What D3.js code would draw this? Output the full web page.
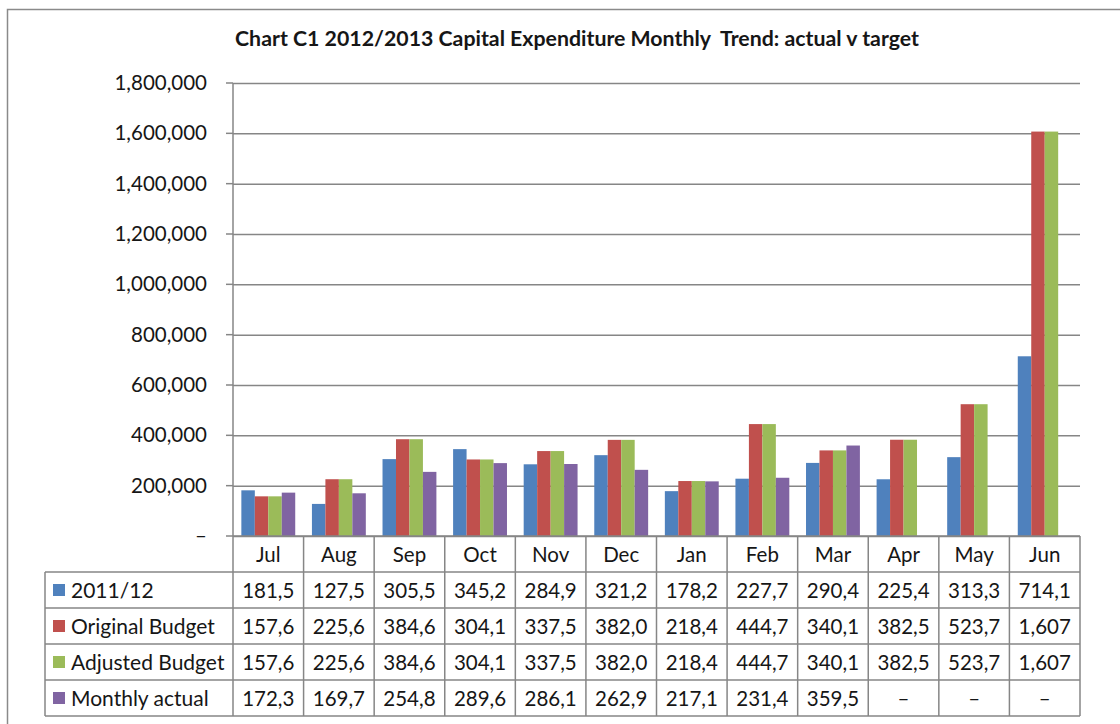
<!DOCTYPE html>
<html>
<head>
<meta charset="utf-8">
<script src="https://cdn.jsdelivr.net/npm/d3@7"></script>
<style>
    body { margin: 0; background: #fff; }
    svg { font-family: Lato, "Open Sans", sans-serif; }
</style>
</head>
<body>
<div id="chart"></div>
<script>
// months and series (values in $; the table shows the first 5 characters, as the original does)
let months = ["Jul", "Aug", "Sep", "Oct", "Nov", "Dec", "Jan", "Feb", "Mar", "Apr", "May", "Jun"];
let seriesNames = ["2011/12", "Original Budget", "Adjusted Budget", "Monthly actual"];
let seriesColors = ["#4F81BD", "#C0504D", "#9BBB59", "#8064A2"];

let prevYear = [181500, 127500, 305500, 345200, 284900, 321200, 178200, 227700, 290400, 225400, 313300, 714100];
let originalBudget = [157600, 225600, 384600, 304100, 337500, 382000, 218400, 444700, 340100, 382500, 523700, 1607000];
let adjustedBudget = [157600, 225600, 384600, 304100, 337500, 382000, 218400, 444700, 340100, 382500, 523700, 1607000];
let monthlyActual = [172300, 169700, 254800, 289600, 286100, 262900, 217100, 231400, 359500, null, null, null];

let yTicks = [0, 200000, 400000, 600000, 800000, 1000000, 1200000, 1400000, 1600000, 1800000];

let series = [prevYear, originalBudget, adjustedBudget, monthlyActual];

let width = 1120, height = 724;
let margin = {top: 83, right: 40, bottom: 188, left: 233};
let plotW = width - margin.left - margin.right;
let plotH = height - margin.top - margin.bottom;
let rowH = 36;
let gridColor = "#868686";
let textColor = "#161616";

let svg = d3.select("#chart").append("svg")
    .attr("width", width)
    .attr("height", height);

// chart area border
svg.append("rect")
    .attr("x", 7.5).attr("y", 9.5)
    .attr("width", width + 20).attr("height", height + 20)
    .attr("fill", "none")
    .attr("stroke", "#8a8a8a")
    .attr("stroke-width", 1.5);

svg.append("text")
    .attr("x", 577)
    .attr("y", 46)
    .attr("text-anchor", "middle")
    .style("font-size", "21.3px")
    .style("font-weight", "bold")
    .style("fill", textColor)
    .attr("xml:space", "preserve")
    .text("Chart C1 2012/2013 Capital Expenditure Monthly  Trend: actual v target");

let g = svg.append("g")
    .attr("transform", `translate(${margin.left}, ${margin.top})`);

// scales
let x0 = d3.scaleBand()
    .domain(months)
    .range([0, plotW]);

let x1 = d3.scaleBand()
    .domain(d3.range(series.length))
    .range([0, x0.bandwidth()])
    .paddingOuter(0.62);

let y = d3.scaleLinear()
    .domain([0, 1800000])
    .range([plotH, 0]);

// gridlines + y axis
let yAxis = d3.axisLeft(y)
    .tickValues(yTicks)
    .tickSize(-plotW)
    .tickPadding(26)
    .tickFormat(d => d === 0 ? "–" : d3.format(",")(d));

g.append("g")
    .attr("class", "y-axis")
    .call(yAxis)
    .call(ax => ax.select(".domain").remove())
    .call(ax => ax.selectAll("line")
        .attr("stroke", gridColor)
        .attr("stroke-width", 1.5))
    .call(ax => ax.selectAll("text")
        .style("font-size", "20.5px")
        .style("fill", textColor)
        .style("font-family", "Lato, sans-serif"));

// small outside ticks
g.append("g")
    .selectAll("line")
    .data(yTicks)
    .enter().append("line")
    .attr("x1", -7).attr("x2", 0)
    .attr("y1", d => y(d)).attr("y2", d => y(d))
    .attr("stroke", gridColor)
    .attr("stroke-width", 1.5);

// bars
let groups = g.selectAll(".month")
    .data(months)
    .enter().append("g")
    .attr("class", "month")
    .attr("transform", d => `translate(${x0(d)}, 0)`);

groups.selectAll("rect")
    .data((m, i) => series.map((s, k) => ({k: k, v: s[i]})).filter(d => d.v !== null))
    .enter().append("rect")
    .attr("x", d => x1(d.k))
    .attr("width", x1.bandwidth())
    .attr("y", d => y(d.v))
    .attr("height", d => plotH - y(d.v))
    .attr("fill", d => seriesColors[d.k]);

// y axis line
g.append("line")
    .attr("x1", 0).attr("x2", 0)
    .attr("y1", 0).attr("y2", plotH)
    .attr("stroke", gridColor)
    .attr("stroke-width", 1.5);

// data table
let table = g.append("g")
    .attr("transform", `translate(0, ${plotH})`);

let legendX = 45 - margin.left;
let fs = "20.5px";

// horizontal lines
table.selectAll(".hline")
    .data(d3.range(series.length + 2))
    .enter().append("line")
    .attr("x1", d => d === 0 ? 0 : legendX)
    .attr("x2", plotW)
    .attr("y1", d => d * rowH)
    .attr("y2", d => d * rowH)
    .attr("stroke", gridColor)
    .attr("stroke-width", 1.5);

// vertical lines
table.selectAll(".vline")
    .data(d3.range(months.length + 1))
    .enter().append("line")
    .attr("x1", d => d === months.length ? plotW : x0(months[d]))
    .attr("x2", d => d === months.length ? plotW : x0(months[d]))
    .attr("y1", 0)
    .attr("y2", (series.length + 1) * rowH)
    .attr("stroke", gridColor)
    .attr("stroke-width", 1.5);

table.append("line")
    .attr("x1", legendX).attr("x2", legendX)
    .attr("y1", rowH).attr("y2", (series.length + 1) * rowH)
    .attr("stroke", gridColor)
    .attr("stroke-width", 1.5);

// month labels
table.selectAll(".mlab")
    .data(months)
    .enter().append("text")
    .attr("x", d => x0(d) + x0.bandwidth() / 2)
    .attr("y", rowH / 2 + 7.5)
    .attr("text-anchor", "middle")
    .style("font-size", fs)
    .style("fill", textColor)
    .text(d => d);

// series rows
let rows = table.selectAll(".row")
    .data(series)
    .enter().append("g")
    .attr("transform", (d, k) => `translate(0, ${(k + 1) * rowH})`);

rows.append("rect")
    .attr("x", legendX + 8)
    .attr("y", rowH / 2 - 6)
    .attr("width", 12)
    .attr("height", 12)
    .attr("fill", (d, k) => seriesColors[k]);

rows.append("text")
    .attr("x", legendX + 26)
    .attr("y", rowH / 2 + 7.5)
    .style("font-size", "21px")
    .style("fill", textColor)
    .text((d, k) => seriesNames[k]);

rows.selectAll(".val")
    .data(d => d)
    .enter().append("text")
    .attr("x", (d, i) => x0(months[i]) + x0.bandwidth() / 2)
    .attr("y", rowH / 2 + 7.5)
    .attr("text-anchor", "middle")
    .style("font-size", fs)
    .style("fill", textColor)
    .text(d => d === null ? "–" : d3.format(",")(d).slice(0, 5));
</script>
</body>
</html>
